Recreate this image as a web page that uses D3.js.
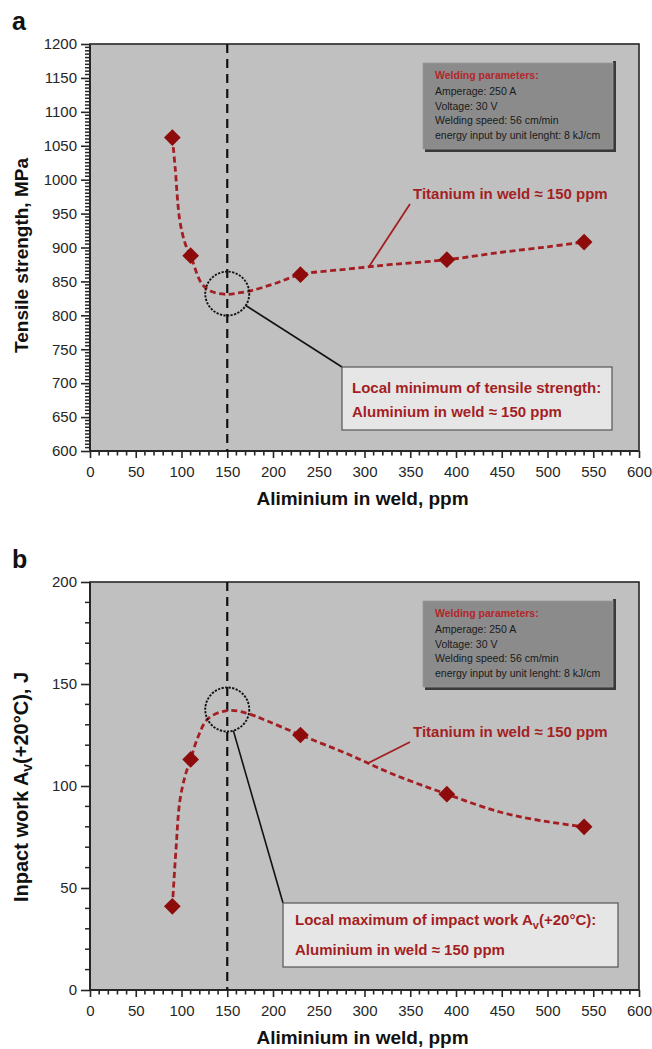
<!DOCTYPE html>
<html>
<head>
<meta charset="utf-8">
<script src="https://cdn.jsdelivr.net/npm/d3@7"></script>
<style>
  body { margin: 0; background: #fff; }
  text { font-family: Arial, "Liberation Sans", sans-serif; }
</style>
</head>
<body>
<svg id="chart" width="652" height="1049"></svg>
<script>
// measured points: aluminium in weld (ppm) vs property
const alContent = [90, 110, 230, 390, 540];
const tensile = [1062, 888, 860, 882, 908];
const impact = [41, 113, 125, 96, 80];

// dashed trend curves
const fitAlA = [90, 93, 98, 104, 110, 122, 133, 149, 162, 175, 200, 230, 280, 330, 390, 450, 500, 540];
const fitTensile = [1062, 1019, 941, 906, 888, 847, 835, 831, 833, 836, 846, 860, 868, 875, 882, 893, 901, 908];
const fitAlB = [90, 94, 98, 104, 110, 118, 129, 150, 172, 193, 230, 280, 330, 390, 450, 500, 540];
const fitImpact = [41, 69, 92, 105, 113, 124, 133, 137, 135.6, 132, 125, 116, 106, 96, 87, 82.5, 80];

// ticks
const xTicks = d3.range(0, 601, 50);
const tensileTicks = d3.range(600, 1201, 50);
const impactTicks = d3.range(0, 201, 50);

const weldParams = ["Amperage: 250 A", "Voltage: 30 V", "Welding speed: 56 cm/min",
  "energy input by unit lenght: 8 kJ/cm"];
const tiLabel = "Titanium in weld \u2248 150 ppm";
const alLabel = "Aluminium in weld \u2248 150 ppm";

const red = "#a31f24";
const axisCol = "#262626";
const svg = d3.select("#chart");
const plotL = 90, plotW = 549;
const x = d3.scaleLinear().domain([0, 600]).range([0, plotW]);
const fmt = d3.format("d");

function styleAxis(sel) {
  sel.select(".domain").remove();
  sel.selectAll(".tick line").attr("stroke", axisCol).attr("stroke-width", 1.6);
  sel.selectAll(".tick text").attr("fill", "#262626").style("font-size", "15px")
    .style("font-family", "Arial, 'Liberation Sans', sans-serif");
}

function panel(o) {
  const g = svg.append("g").attr("transform", `translate(${plotL},${o.top})`);
  const y = d3.scaleLinear().domain(o.yDomain).range([o.h, 0]);

  g.append("rect").attr("width", plotW).attr("height", o.h)
    .attr("fill", "#c0c0c0").attr("stroke", axisCol).attr("stroke-width", 1.6);

  // minor ticks
  const xMinor = d3.range(0, 601, 10).filter(v => v % 50);
  g.append("g").selectAll("line").data(xMinor).enter().append("line")
    .attr("x1", d => x(d)).attr("x2", d => x(d)).attr("y1", o.h).attr("y2", o.h + 4.5)
    .attr("stroke", axisCol).attr("stroke-width", 1.6);
  const yMinor = d3.range(o.yDomain[0], o.yDomain[1] + 1, o.yMinor).filter(v => v % 50);
  g.append("g").selectAll("line").data(yMinor).enter().append("line")
    .attr("x1", 0).attr("x2", -5).attr("y1", d => y(d)).attr("y2", d => y(d))
    .attr("stroke", axisCol).attr("stroke-width", 1.5);

  // major ticks and labels
  g.append("g").attr("transform", `translate(0,${o.h})`)
    .call(d3.axisBottom(x).tickValues(xTicks).tickSize(7).tickPadding(8.4).tickFormat(fmt))
    .call(styleAxis);
  g.append("g")
    .call(d3.axisLeft(y).tickValues(o.yTicks).tickSize(9).tickPadding(4).tickFormat(fmt))
    .call(styleAxis);

  g.append("line").attr("x1", 0).attr("x2", 0).attr("y1", 0).attr("y2", o.h)
    .attr("stroke", axisCol).attr("stroke-width", 2);
  g.append("line").attr("x1", 0).attr("x2", plotW).attr("y1", o.h).attr("y2", o.h)
    .attr("stroke", axisCol).attr("stroke-width", 2);

  // legend box with welding parameters
  const lb = { x: 333, y: 19, w: 190, h: 86 };
  g.append("rect").attr("x", lb.x + lb.w).attr("y", lb.y - 2).attr("width", 3).attr("height", lb.h + 5).attr("fill", "#3a3a3a");
  g.append("rect").attr("x", lb.x + 2).attr("y", lb.y + lb.h).attr("width", lb.w + 1).attr("height", 3).attr("fill", "#3a3a3a");
  g.append("rect").attr("x", lb.x).attr("y", lb.y).attr("width", lb.w).attr("height", lb.h)
    .attr("fill", "#8b8b8b").attr("stroke", "#9a9a9a").attr("stroke-width", 0.8);
  g.append("text").attr("x", lb.x + 12).attr("y", lb.y + 16).attr("fill", "#b3262a")
    .style("font-size", "10.5px").style("font-weight", "bold").text("Welding parameters:");
  g.selectAll(".wp").data(weldParams).enter().append("text")
    .attr("x", lb.x + 12).attr("y", (d, i) => lb.y + 32 + i * 14.5)
    .attr("fill", "#1a1a1a").style("font-size", "10.5px").text(d => d);

  // reference line at 150 ppm
  g.append("line").attr("x1", x(150)).attr("x2", x(150)).attr("y1", 0).attr("y2", o.h)
    .attr("stroke", "#111").attr("stroke-width", 2.2).attr("stroke-dasharray", "9,6");

  // trend curve
  const line = d3.line().x(d => x(d[0])).y(d => y(d[1])).curve(d3.curveCatmullRom.alpha(0.5));
  g.append("path").datum(d3.zip(o.fitX, o.fitY)).attr("d", line)
    .attr("fill", "none").attr("stroke", red).attr("stroke-width", 2.8).attr("stroke-dasharray", "6,3.5");

  // markers
  g.selectAll(".pt").data(d3.zip(alContent, o.values)).enter().append("path")
    .attr("d", d3.symbol(d3.symbolSquare, 140))
    .attr("transform", d => `translate(${x(d[0])},${y(d[1])}) rotate(45)`)
    .attr("fill", "#8e0b0b");

  // titanium label
  g.append("line").attr("x1", 320).attr("y1", 160).attr("x2", x(o.tiPoint[0])).attr("y2", y(o.tiPoint[1]))
    .attr("stroke", red).attr("stroke-width", 1.8);
  g.append("text").attr("x", 323).attr("y", 155).attr("fill", red)
    .style("font-size", "15px").style("font-weight", "bold").text(tiLabel);

  // extremum circle and callout
  const cx = x(150), cy = y(o.peak), r = 22;
  const b = o.box;
  const ang = Math.atan2(b.y - cy, b.x - cx);
  g.append("line").attr("x1", cx + r * Math.cos(ang)).attr("y1", cy + r * Math.sin(ang))
    .attr("x2", b.x).attr("y2", b.y).attr("stroke", "#111").attr("stroke-width", 1.6);
  g.append("circle").attr("cx", cx).attr("cy", cy).attr("r", r)
    .attr("fill", "none").attr("stroke", "#111").attr("stroke-width", 1.9).attr("stroke-dasharray", "2.2,1.4");

  g.append("rect").attr("x", b.x).attr("y", b.y).attr("width", b.w).attr("height", b.h)
    .attr("fill", "#e6e6e6").attr("stroke", "#555").attr("stroke-width", 1.2);
  const t1 = g.append("text").attr("x", b.x + b.tx).attr("y", b.y + b.l1).attr("fill", red)
    .style("font-size", "15px").style("font-weight", "bold");
  o.callout(t1);
  g.append("text").attr("x", b.x + b.tx).attr("y", b.y + b.l2).attr("fill", red)
    .style("font-size", "15px").style("font-weight", "bold").text(alLabel);

  // axis titles
  g.append("text").attr("x", plotW / 2 - 2).attr("y", o.h + 54).attr("text-anchor", "middle")
    .attr("fill", "#111").style("font-size", "19px").style("font-weight", "bold")
    .text("Aliminium in weld, ppm");
  const yt = svg.append("text").attr("transform", `translate(28,${o.top + o.h / 2 + o.ytShift}) rotate(-90)`)
    .attr("text-anchor", "middle").attr("fill", "#111").style("font-size", o.ytSize).style("font-weight", "bold");
  o.yTitle(yt);

  svg.append("text").attr("x", 12).attr("y", o.top - 14).attr("fill", "#111")
    .style("font-size", "25px").style("font-weight", "bold").text(o.letter);
}

function subV(t, before, after, size) {
  t.append("tspan").text(before);
  t.append("tspan").attr("dy", 4).style("font-size", size).text("v");
  t.append("tspan").attr("dy", -4).text(after);
}

panel({
  top: 44, h: 407, yDomain: [600, 1200], yTicks: tensileTicks, yMinor: 5,
  fitX: fitAlA, fitY: fitTensile, values: tensile, peak: 832, tiPoint: [305, 872],
  box: { x: 252, y: 323, w: 270, h: 63, tx: 10, l1: 26, l2: 50 },
  callout: t => t.text("Local minimum of tensile strength:"),
  yTitle: t => t.text("Tensile strength, MPa"), ytShift: 8, ytSize: "19px", letter: "a"
});

panel({
  top: 582, h: 408, yDomain: [0, 200], yTicks: impactTicks, yMinor: 10,
  fitX: fitAlB, fitY: fitImpact, values: impact, peak: 137.5, tiPoint: [303, 111],
  box: { x: 193, y: 321, w: 335, h: 64, tx: 12, l1: 22, l2: 52 },
  callout: t => subV(t, "Local maximum of impact work A", "(+20\u00b0C):", "11px"),
  yTitle: t => subV(t, "Inpact work A", "(+20\u00b0C), J", "14px"), ytShift: 1, ytSize: "20px", letter: "b"
});
</script>
</body>
</html>
